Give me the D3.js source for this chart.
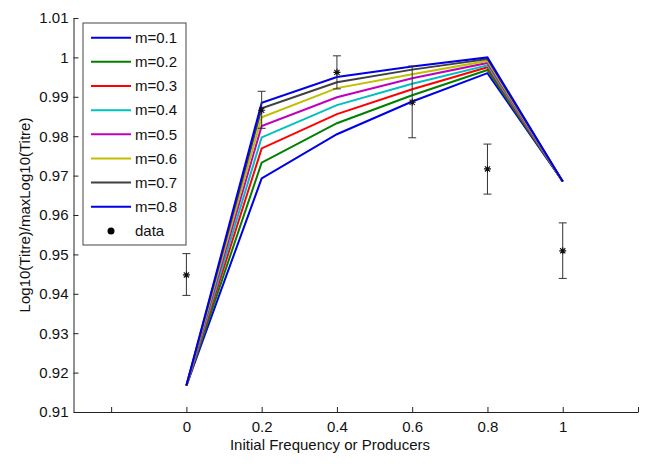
<!DOCTYPE html>
<html>
<head>
<meta charset="utf-8">
<script src="https://cdn.jsdelivr.net/npm/d3@7"></script>
<style>
body { margin: 0; background: #fff; }
svg { display: block; font-family: "Liberation Sans", Arial, sans-serif; }
</style>
</head>
<body>
<svg id="chart" width="656" height="466"></svg>
<script>
const xValues = [0, 0.2, 0.4, 0.6, 0.8, 1];
const seriesNames = ["m=0.1", "m=0.2", "m=0.3", "m=0.4", "m=0.5", "m=0.6", "m=0.7", "m=0.8"];
const seriesColors = ["#0000e6", "#008000", "#ff0000", "#00bfbf", "#bf00bf", "#bfbf00", "#404040", "#0000e6"];
const m01 = [0.9167, 0.9693, 0.9805, 0.9888, 0.9960, 0.9685];
const m02 = [0.9167, 0.9733, 0.9833, 0.9904, 0.9968, 0.9685];
const m03 = [0.9167, 0.9769, 0.9856, 0.9919, 0.9975, 0.9685];
const m04 = [0.9167, 0.9797, 0.9879, 0.9933, 0.9980, 0.9685];
const m05 = [0.9167, 0.9826, 0.9899, 0.9947, 0.9986, 0.9685];
const m06 = [0.9167, 0.9848, 0.9922, 0.9957, 0.9991, 0.9685];
const m07 = [0.9167, 0.9871, 0.9937, 0.9969, 0.9996, 0.9685];
const m08 = [0.9167, 0.9885, 0.9950, 0.9977, 1.0000, 0.9685];
const seriesValues = [m01, m02, m03, m04, m05, m06, m07, m08];
const dataMean = [0.9448, 0.9866, 0.9962, 0.9886, 0.9717, 0.9509];
const dataUpper = [0.9502, 0.9914, 1.0004, 0.9978, 0.9780, 0.9580];
const dataLower = [0.9396, 0.9820, 0.9920, 0.9796, 0.9653, 0.9439];
const xTicks = [-0.2, 0, 0.2, 0.4, 0.6, 0.8, 1, 1.2];
const xTickLabels = ["", "0", "0.2", "0.4", "0.6", "0.8", "1", ""];
const yTicks = [0.91, 0.92, 0.93, 0.94, 0.95, 0.96, 0.97, 0.98, 0.99, 1.0, 1.01];
const yTickLabels = ["0.91", "0.92", "0.93", "0.94", "0.95", "0.96", "0.97", "0.98", "0.99", "1", "1.01"];
const xLabel = "Initial Frequency or Producers";
const yLabel = "Log10(Titre)/maxLog10(Titre)";

const svg = d3.select("#chart");
const x = d3.scaleLinear().domain([-0.3, 1.2]).range([73.5, 638]);
const y = d3.scaleLinear().domain([0.91, 1.01]).range([412, 18]);

// axes
const gx = svg.append("g").attr("transform", "translate(0,412)")
  .call(d3.axisBottom(x).tickValues(xTicks).tickFormat((d, i) => xTickLabels[i])
    .tickSizeInner(-5).tickSizeOuter(0).tickPadding(9));
gx.select(".domain").attr("stroke", "#222");
gx.selectAll(".tick line").attr("stroke", "#222");
gx.selectAll("text").attr("font-size", 15).attr("fill", "#111").attr("font-family", "Liberation Sans, Arial, sans-serif");
// extend bottom axis to left edge
const gy = svg.append("g").attr("transform", "translate(73.5,0)")
  .call(d3.axisLeft(y).tickValues(yTicks).tickFormat((d, i) => yTickLabels[i])
    .tickSizeInner(-5).tickSizeOuter(0).tickPadding(5));
gy.select(".domain").attr("stroke", "#222");
gy.selectAll(".tick line").attr("stroke", "#222");
gy.selectAll("text").attr("font-size", 15).attr("fill", "#111").attr("font-family", "Liberation Sans, Arial, sans-serif");

// lines
const line = d3.line().x((d, i) => x(xValues[i])).y(d => y(d));
seriesValues.forEach((vals, k) => {
  svg.append("path").datum(vals).attr("d", line)
    .attr("fill", "none").attr("stroke", seriesColors[k]).attr("stroke-width", 2)
    .attr("stroke-linejoin", "miter");
});

// error bars
const cap = 4;
const eb = svg.append("g").attr("stroke", "#333").attr("stroke-width", 1);
xValues.forEach((xv, i) => {
  const cx = x(xv);
  eb.append("line").attr("x1", cx).attr("x2", cx).attr("y1", y(dataUpper[i])).attr("y2", y(dataLower[i]));
  eb.append("line").attr("x1", cx - cap).attr("x2", cx + cap).attr("y1", y(dataUpper[i])).attr("y2", y(dataUpper[i]));
  eb.append("line").attr("x1", cx - cap).attr("x2", cx + cap).attr("y1", y(dataLower[i])).attr("y2", y(dataLower[i]));
});
// asterisk markers
const r = 3.5, rd = 2.6;
xValues.forEach((xv, i) => {
  const cx = x(xv), cy = y(dataMean[i]);
  svg.append("path")
    .attr("d", `M${cx - r},${cy}H${cx + r}M${cx},${cy - r}V${cy + r}M${cx - rd},${cy - rd}L${cx + rd},${cy + rd}M${cx - rd},${cy + rd}L${cx + rd},${cy - rd}`)
    .attr("stroke", "#111").attr("stroke-width", 1.1).attr("fill", "none");
});

// axis labels
svg.append("text").attr("x", 330).attr("y", 450).attr("text-anchor", "middle")
  .attr("font-size", 15).attr("fill", "#111").text(xLabel);
svg.append("text").attr("transform", "translate(30,215) rotate(-90)").attr("text-anchor", "middle")
  .attr("font-size", 15).attr("fill", "#111").text(yLabel);

// legend
const lg = svg.append("g");
lg.append("rect").attr("x", 83).attr("y", 23).attr("width", 103).attr("height", 222)
  .attr("fill", "#fff").attr("stroke", "#444").attr("stroke-width", 1);
seriesNames.forEach((name, k) => {
  const ly = 37.7 + k * 24.15;
  lg.append("line").attr("x1", 91).attr("x2", 131).attr("y1", ly).attr("y2", ly)
    .attr("stroke", seriesColors[k]).attr("stroke-width", 2);
  lg.append("text").attr("x", 135).attr("y", ly + 5.3).attr("font-size", 15).attr("fill", "#111").text(name);
});
const dy = 37.7 + 8 * 24.15;
lg.append("circle").attr("cx", 111).attr("cy", dy).attr("r", 3.5).attr("fill", "#000");
lg.append("text").attr("x", 135).attr("y", dy + 5.3).attr("font-size", 15).attr("fill", "#111").text("data");
</script>
</body>
</html>
